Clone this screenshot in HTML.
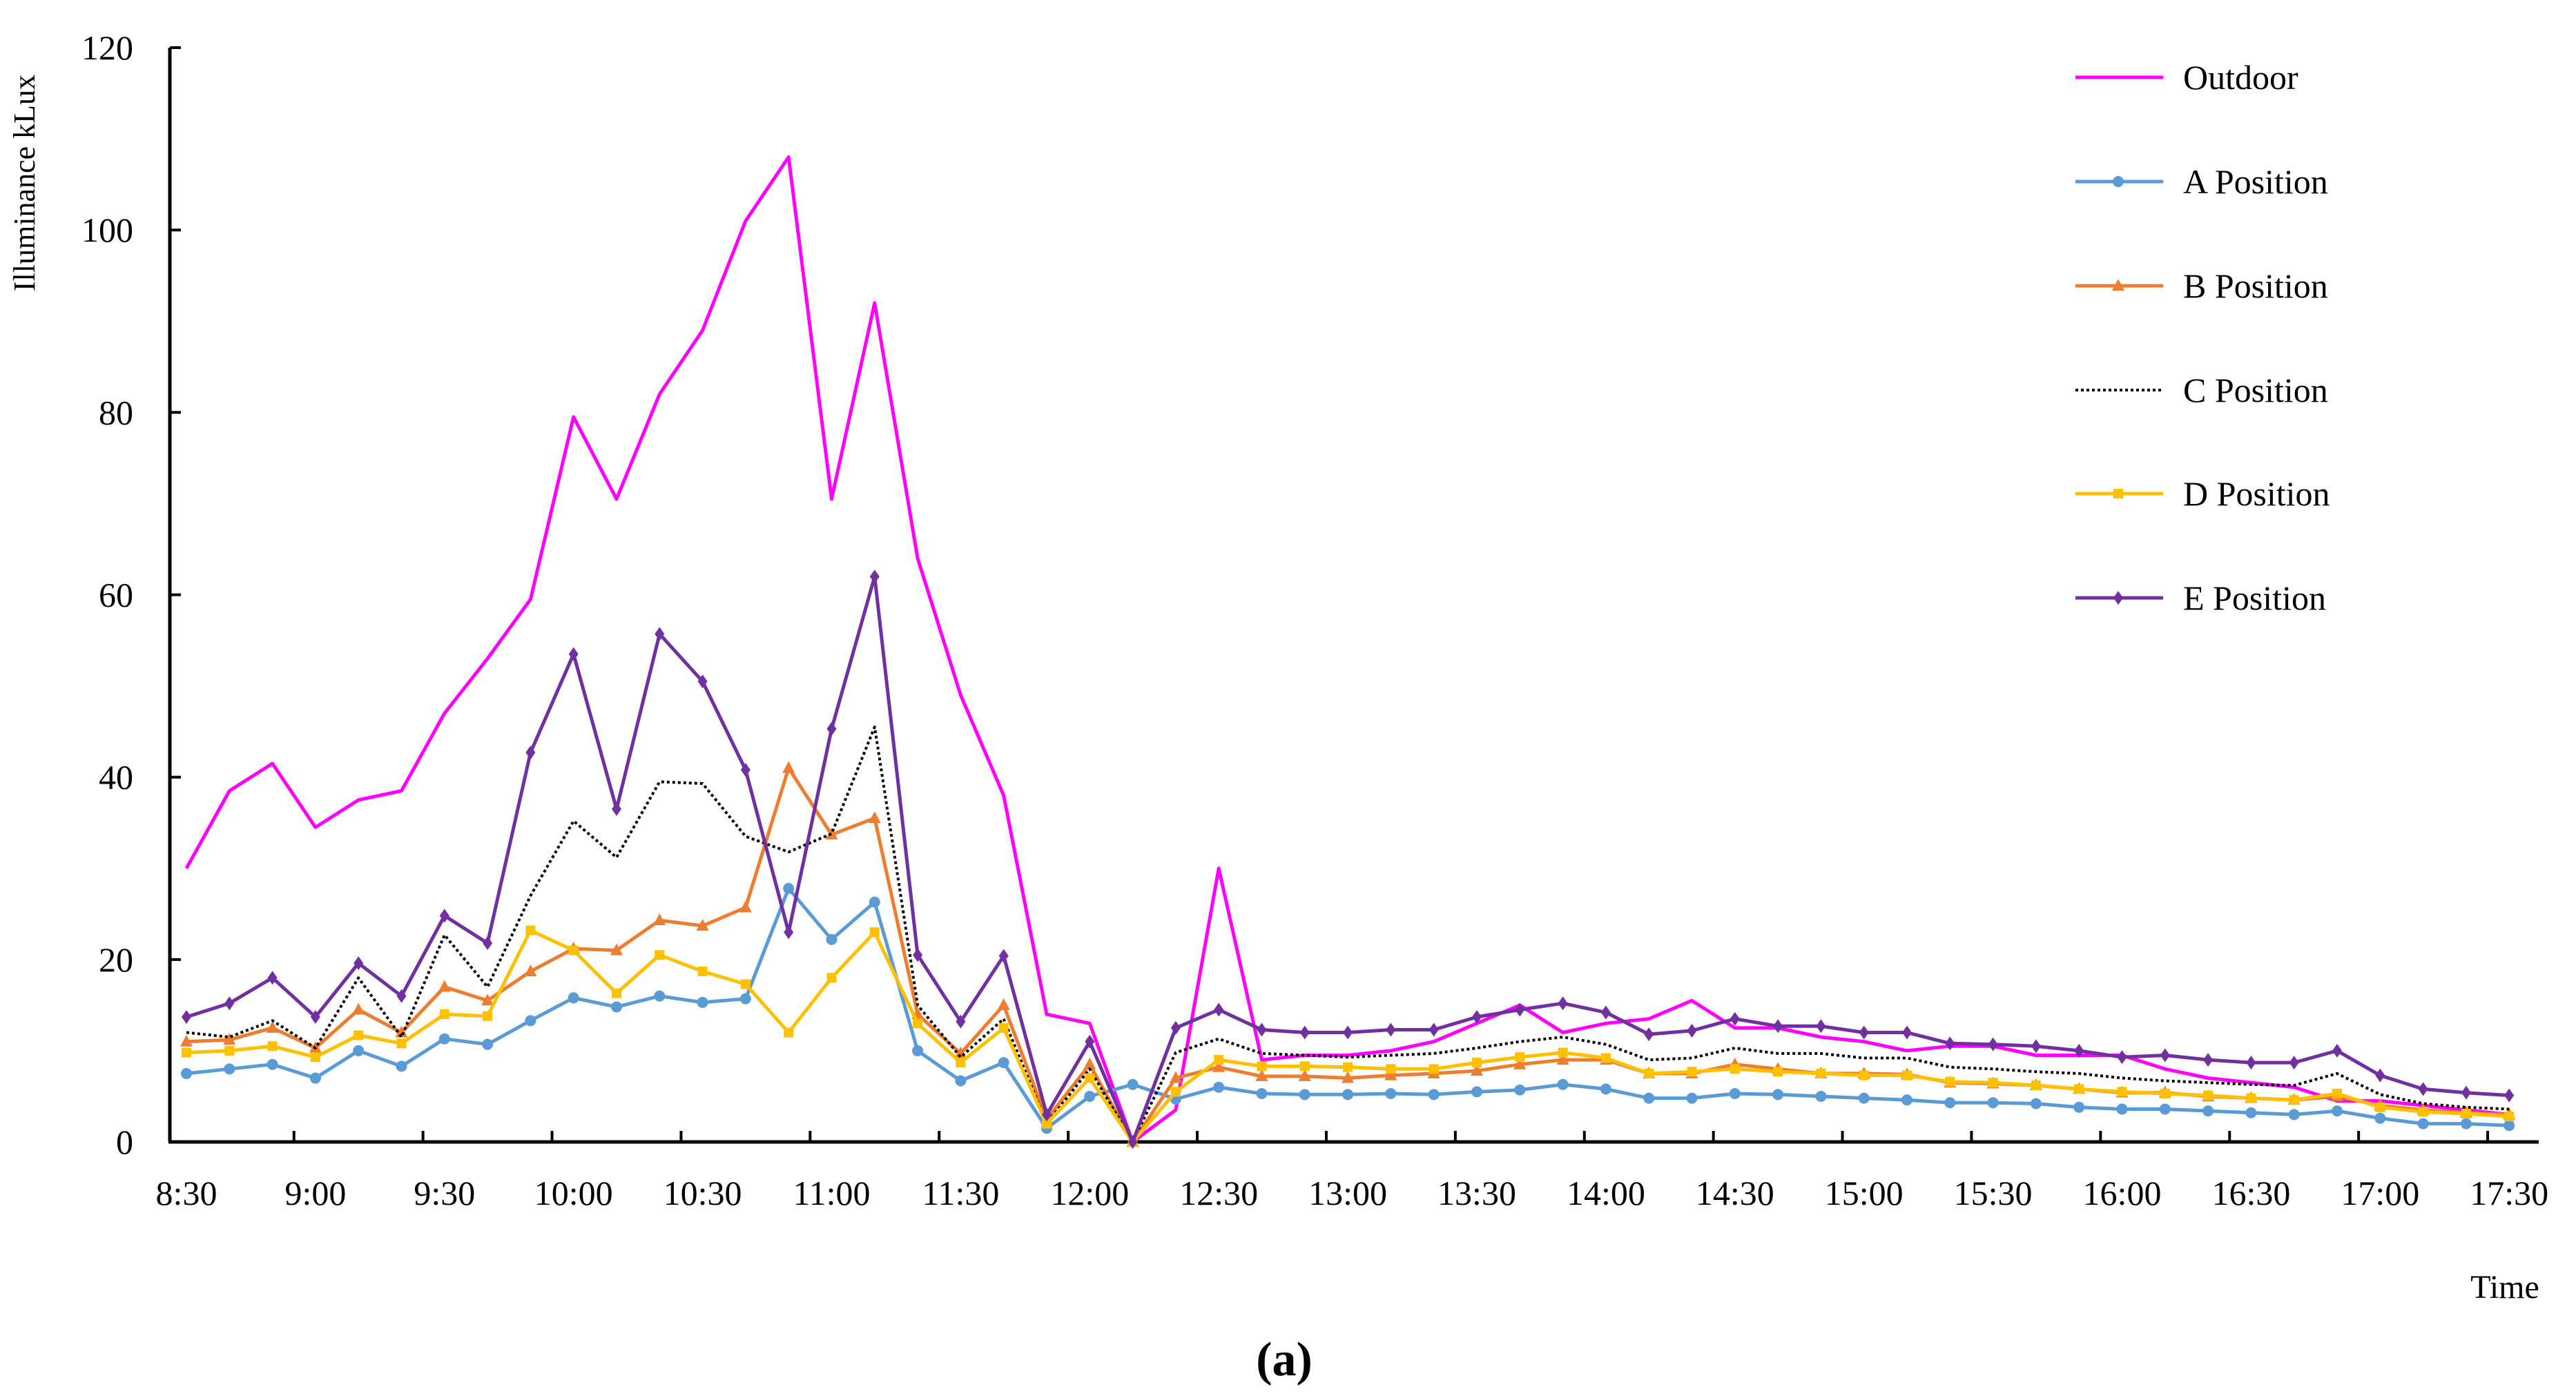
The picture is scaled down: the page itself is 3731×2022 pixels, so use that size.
<!DOCTYPE html>
<html><head><meta charset="utf-8"><style>
html,body{margin:0;padding:0;background:#fff;}
svg{display:block;}
text{font-family:"Liberation Serif","Times New Roman",serif;}
</style></head><body>
<svg id="chart" width="3731" height="2022" viewBox="0 0 3731 2022" xmlns="http://www.w3.org/2000/svg">
<rect width="3731" height="2022" fill="#fff"/>
<g id="grid"></g>
<g id="series"></g>
<g id="legend"></g>
</svg>
<script>
const timeLabels=["8:30","9:00","9:30","10:00","10:30","11:00","11:30","12:00","12:30","13:00","13:30","14:00","14:30","15:00","15:30","16:00","16:30","17:00","17:30"];
const yTicks=[0,20,40,60,80,100,120];
const outdoor=[30,38.5,41.5,34.5,37.5,38.5,47,53,59.5,79.5,70.5,82,89,101,108,70.5,92,64,49,38,14,13,0,3.5,30,9,9.5,9.5,10,11,13,15,12,13,13.5,15.5,12.5,12.5,11.5,11,10,10.5,10.5,9.5,9.5,9.5,8,7,6.5,6,4.5,4.5,4,3.5,3];
const posA=[7.5,8,8.5,7,10,8.3,11.3,10.7,13.3,15.8,14.8,16,15.3,15.7,27.8,22.2,26.3,10,6.7,8.7,1.5,5,6.3,4.7,6,5.3,5.2,5.2,5.3,5.2,5.5,5.7,6.3,5.8,4.8,4.8,5.3,5.2,5,4.8,4.6,4.3,4.3,4.2,3.8,3.6,3.6,3.4,3.2,3,3.4,2.6,2,2,1.8];
const posB=[11,11.2,12.5,10.3,14.5,12,17,15.5,18.7,21.2,21,24.3,23.7,25.7,41,33.7,35.5,14,9.7,15,2.5,8.5,0,7,8.2,7.2,7.2,7,7.3,7.5,7.8,8.5,9,9,7.5,7.5,8.5,8,7.5,7.5,7.4,6.5,6.4,6.2,5.8,5.4,5.4,5,4.8,4.6,5,4,3.5,3.2,3];
const posC=[12,11.5,13.3,10.3,18,11.5,22.7,17,27,35.2,31.2,39.5,39.3,33.5,31.8,33.8,45.5,15,9.3,13.5,2,8,0,9.8,11.3,9.7,9.5,9.3,9.5,9.7,10.3,11,11.5,10.7,9,9.2,10.3,9.7,9.7,9.2,9.2,8.2,8,7.7,7.5,7,6.7,6.5,6.3,6.2,7.5,5.2,4.2,3.8,3.6];
const posD=[9.8,10,10.5,9.3,11.7,10.8,14,13.8,23.2,21,16.3,20.5,18.7,17.3,12,18,23,13,8.7,12.5,2,7,0,5.5,9,8.3,8.3,8.2,8,8,8.7,9.3,9.8,9.2,7.5,7.7,8,7.7,7.5,7.3,7.3,6.6,6.5,6.2,5.8,5.5,5.3,5.1,4.8,4.6,5.3,3.8,3.3,3.1,2.8];
const posE=[13.7,15.2,18,13.7,19.6,16,24.8,21.8,42.7,53.5,36.5,55.7,50.5,40.8,23,45.3,62,20.5,13.2,20.4,3,11,0,12.5,14.5,12.3,12,12,12.3,12.3,13.7,14.5,15.2,14.2,11.8,12.2,13.5,12.7,12.7,12,12,10.8,10.7,10.5,10,9.3,9.5,9,8.7,8.7,10,7.3,5.8,5.4,5.1];
const seriesNames=["Outdoor","A Position","B Position","C Position","D Position","E Position"];

const NS="http://www.w3.org/2000/svg";
const FF='"Liberation Serif", "Times New Roman", serif';
const X0=270, STEP=62.3, AX=246, Y0=1654, YTOP=69, XEND=3677;
const xs=i=>X0+i*STEP;
const ys=v=>Y0-(v/120)*(Y0-YTOP);
function mk(tag,attrs,parent){const e=document.createElementNS(NS,tag);for(const k in attrs)e.setAttribute(k,attrs[k]);if(tag==='text')e.setAttribute('font-family',FF);parent.appendChild(e);return e;}
const grid=document.getElementById('grid'), ser=document.getElementById('series'), leg=document.getElementById('legend');

let yAxis=mk('line',{x1:AX,y1:YTOP,x2:AX,y2:Y0,stroke:'#000','stroke-width':5},grid);


let xAxis=mk('line',{x1:AX-2,y1:Y0,x2:XEND,y2:Y0,stroke:'#000','stroke-width':5},grid);


yTicks.forEach(v=>{
  let t=mk('line',{x1:AX,y1:ys(v),x2:AX+16,y2:ys(v),stroke:'#000','stroke-width':4},grid);
  
  
  let l=mk('text',{x:193,y:ys(v)+17,'font-size':50,'text-anchor':'end',fill:'#000'},grid);
  l.textContent=v;
  
  
});
timeLabels.forEach((s,k)=>{
  const i=k*3;
  if(k>0){let t=mk('line',{x1:xs(i-0.5),y1:Y0,x2:xs(i-0.5),y2:Y0-16,stroke:'#000','stroke-width':4},grid);
  
  }
  let l=mk('text',{x:xs(i),y:1745,'font-size':50,'text-anchor':'middle',fill:'#000'},grid);
  l.textContent=s;
  
  
});
let yt=mk('text',{x:0,y:0,'font-size':44,'text-anchor':'middle',fill:'#000',transform:'translate(50,265) rotate(-90)'},grid);
yt.textContent='Illuminance kLux';


let xt=mk('text',{x:3628,y:1880,'font-size':48,'text-anchor':'middle',fill:'#000'},grid);
xt.textContent='Time';


let cap=mk('text',{x:1860,y:1992,'font-size':70,'font-weight':'bold','text-anchor':'middle',fill:'#000'},grid);
cap.textContent='(a)';



const defs=[
 {d:outdoor,c:'#ff00ff',m:null,dash:null,n:'outdoor-line'},
 {d:posA,c:'#5b9bd5',m:'circle',dash:null,n:'a-position-line'},
 {d:posB,c:'#ed7d31',m:'tri',dash:null,n:'b-position-line'},
 {d:posC,c:'#000',m:null,dash:'4 4',n:'c-position-line'},
 {d:posD,c:'#ffc000',m:'square',dash:null,n:'d-position-line'},
 {d:posE,c:'#7030a0',m:'diamond',dash:null,n:'e-position-line'}
];
function marker(type,x,y,c,parent){
  let e;
  if(type==='circle')e=mk('circle',{cx:x,cy:y,r:8,fill:c},parent);
  else if(type==='tri')e=mk('polygon',{points:`${x},${y-10} ${x-9},${y+7} ${x+9},${y+7}`,fill:c},parent);
  else if(type==='square')e=mk('rect',{x:x-7,y:y-7,width:14,height:14,fill:c},parent);
  else if(type==='diamond')e=mk('polygon',{points:`${x},${y-10} ${x+7},${y} ${x},${y+10} ${x-7},${y}`,fill:c},parent);
  return e;
}
defs.forEach(s=>{
  const pts=s.d.map((v,i)=>xs(i).toFixed(1)+','+ys(v).toFixed(1)).join(' ');
  const a={points:pts,fill:'none',stroke:s.c,'stroke-width':s.dash?4:5,'stroke-linejoin':'round'};
  if(s.dash)a['stroke-dasharray']=s.dash;
  let pl=mk('polyline',a,ser);
  
  
  if(s.m)s.d.forEach((v,i)=>{
    let mm=marker(s.m,xs(i),ys(v),s.c,ser);
    
    
  });
});
const legY=[112,263,414,565,715,866];
defs.forEach((s,k)=>{
  const y=legY[k];
  const a={x1:3006,y1:y,x2:3133,y2:y,stroke:s.c,'stroke-width':s.dash?4:5};
  if(s.dash)a['stroke-dasharray']=s.dash;
  let ln=mk('line',a,leg);
  
  
  if(s.m){let mm=marker(s.m,3068,y,s.c,leg);
  
  }
  let t=mk('text',{x:3162,y:y+17,'font-size':50,fill:'#000'},leg);
  t.textContent=seriesNames[k];
  
  
});
</script>
</body></html>
